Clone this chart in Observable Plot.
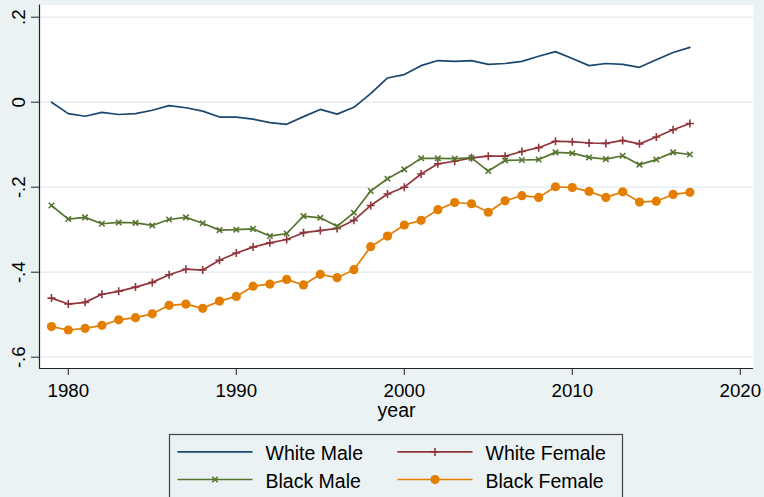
<!DOCTYPE html>
<html><head><meta charset="utf-8">
<script src="https://cdn.jsdelivr.net/npm/d3@7"></script>
<script src="https://cdn.jsdelivr.net/npm/@observablehq/plot@0.6"></script>
<style>
html,body{margin:0;padding:0;background:#eaf2f3;overflow:hidden;width:764px;height:497px;font-family:"Liberation Sans",Arial,sans-serif;}
#chart{position:absolute;left:0;top:0;}
#legend{position:absolute;left:0;top:430px;}
</style></head><body><div id="chart"></div><div id="legend"></div>
<script>
const years = [1979,1980,1981,1982,1983,1984,1985,1986,1987,1988,1989,1990,1991,1992,1993,1994,1995,1996,1997,1998,1999,2000,2001,2002,2003,2004,2005,2006,2007,2008,2009,2010,2011,2012,2013,2014,2015,2016,2017];
const whiteMale = [0,-0.027,-0.033,-0.024,-0.029,-0.027,-0.019,-0.008,-0.013,-0.021,-0.035,-0.035,-0.040,-0.048,-0.052,-0.034,-0.017,-0.028,-0.012,0.020,0.057,0.065,0.086,0.098,0.096,0.098,0.089,0.091,0.096,0.108,0.119,0.103,0.086,0.091,0.089,0.082,0.100,0.117,0.129];
const whiteFemale = [-0.461,-0.475,-0.471,-0.452,-0.445,-0.435,-0.424,-0.406,-0.393,-0.395,-0.372,-0.355,-0.341,-0.331,-0.323,-0.307,-0.302,-0.297,-0.278,-0.243,-0.216,-0.200,-0.169,-0.145,-0.139,-0.131,-0.127,-0.127,-0.116,-0.107,-0.092,-0.093,-0.096,-0.097,-0.090,-0.098,-0.082,-0.065,-0.050];
const blackMale = [-0.243,-0.275,-0.271,-0.286,-0.283,-0.284,-0.290,-0.276,-0.271,-0.285,-0.301,-0.300,-0.298,-0.315,-0.309,-0.268,-0.272,-0.292,-0.260,-0.209,-0.180,-0.158,-0.132,-0.132,-0.133,-0.131,-0.162,-0.137,-0.136,-0.135,-0.118,-0.120,-0.130,-0.134,-0.126,-0.147,-0.135,-0.118,-0.123];
const blackFemale = [-0.528,-0.536,-0.532,-0.525,-0.512,-0.507,-0.498,-0.478,-0.475,-0.485,-0.468,-0.457,-0.433,-0.428,-0.417,-0.430,-0.405,-0.413,-0.394,-0.340,-0.315,-0.289,-0.278,-0.253,-0.236,-0.239,-0.259,-0.232,-0.220,-0.224,-0.199,-0.201,-0.210,-0.224,-0.211,-0.235,-0.233,-0.217,-0.212];

const seriesNames = ["White Male","White Female","Black Male","Black Female"];
const seriesColors = ["#1a476f","#90353b","#55752f","#e37e00"];
const seriesSymbols = [null,"plus","times","circle"];
const seriesValues = [whiteMale, whiteFemale, blackMale, blackFemale];

const xTicks = [1980,1990,2000,2010,2020];
const yTicks = [0.2,0,-0.2,-0.4,-0.6];
const yTickLabels = [".2","0","-.2","-.4","-.6"];
const xLabel = "year";

const xDomain = [1978.286, 2020.786];
const yDomain = [-0.6266, 0.2287];

const rows = [];
seriesNames.forEach((name, i) => {
  years.forEach((yr, j) => rows.push({series: name, year: yr, value: seriesValues[i][j]}));
});
const bySeries = n => rows.filter(r => r.series === n);

const plusR = 2.7, timesR = 2.6, circleR = 4.6;

const marks = [
  Plot.frame({fill: "white", stroke: null}),
  Plot.gridY(yTicks, {stroke: "#e6eef1", strokeOpacity: 1, strokeWidth: 1.6}),
];
seriesNames.forEach((name, i) => {
  marks.push(Plot.line(bySeries(name), {x: "year", y: "value", stroke: seriesColors[i], strokeWidth: 1.7}));
  if (seriesSymbols[i] === "circle") {
    marks.push(Plot.dot(bySeries(name), {x: "year", y: "value", r: circleR, fill: seriesColors[i], stroke: null}));
  } else if (seriesSymbols[i] === "plus") {
    marks.push(Plot.dot(bySeries(name), {x: "year", y: "value", r: plusR, symbol: "plus", stroke: seriesColors[i], strokeWidth: 1.6}));
  } else if (seriesSymbols[i] === "times") {
    marks.push(Plot.dot(bySeries(name), {x: "year", y: "value", r: timesR, symbol: "times", stroke: seriesColors[i], strokeWidth: 1.6}));
  }
});
marks.push(
  Plot.ruleX([xDomain[0]], {stroke: "#222", strokeWidth: 1.2}),
  Plot.ruleY([yDomain[0]], {stroke: "#222", strokeWidth: 1.2}),
  Plot.axisX({ticks: xTicks, tickSize: 7, tickPadding: 8, tickFormat: d => String(d), fontSize: 18.7, label: null, stroke: "#222"}),
  Plot.axisY({ticks: yTicks, tickSize: 8, tickPadding: 7, tickRotate: -90, tickFormat: d => yTickLabels[yTicks.indexOf(d)], fontSize: 18.7, label: null, stroke: "#222"}),
  Plot.text([xLabel], {frameAnchor: "bottom", dy: 48, text: d => d, fontSize: 19.5, lineAnchor: "bottom", fill: "black"})
);

const chart = Plot.plot({
  width: 764, height: 430,
  marginLeft: 39, marginRight: 11, marginTop: 4.5, marginBottom: 62,
  x: {domain: xDomain},
  y: {domain: yDomain},
  style: {background: "#eaf2f3", fontFamily: "'Liberation Sans', Arial, sans-serif", color: "black", overflow: "visible"},
  marks
});
document.getElementById("chart").append(chart);

// legend
const lg = d3.select("#legend").append("svg").attr("width", 764).attr("height", 67)
  .style("font-family", "'Liberation Sans', Arial, sans-serif");
const bx = 169.5, by = 4.5;
lg.append("rect").attr("x", bx).attr("y", by).attr("width", 453).attr("height", 80)
  .attr("fill", "#eaf2f3").attr("stroke", "#444").attr("stroke-width", 1.2);
seriesNames.forEach((name, i) => {
  const col = i % 2, row = Math.floor(i / 2);
  const sx = bx + 8 + col * 220, sy = by + 17.4 + row * 27.6;
  const g = lg.append("g");
  g.append("line").attr("x1", sx).attr("x2", sx + 75).attr("y1", sy).attr("y2", sy)
    .attr("stroke", seriesColors[i]).attr("stroke-width", 1.7);
  const cx = sx + 37.5;
  if (seriesSymbols[i] === "circle") g.append("circle").attr("cx", cx).attr("cy", sy).attr("r", circleR).attr("fill", seriesColors[i]);
  if (seriesSymbols[i] === "plus") g.append("path").attr("d", d3.symbol(d3.symbolPlus, Math.PI * plusR * plusR)()).attr("transform", `translate(${cx},${sy})`).attr("stroke", seriesColors[i]).attr("fill", "none").attr("stroke-width", 1.6);
  if (seriesSymbols[i] === "times") g.append("path").attr("d", d3.symbol(d3.symbolTimes, Math.PI * timesR * timesR)()).attr("transform", `translate(${cx},${sy})`).attr("stroke", seriesColors[i]).attr("fill", "none").attr("stroke-width", 1.6);
  g.append("text").attr("x", sx + 88).attr("y", sy + 8.4).attr("font-size", 19.5).attr("fill", "black").text(name);
});
</script></body></html>
